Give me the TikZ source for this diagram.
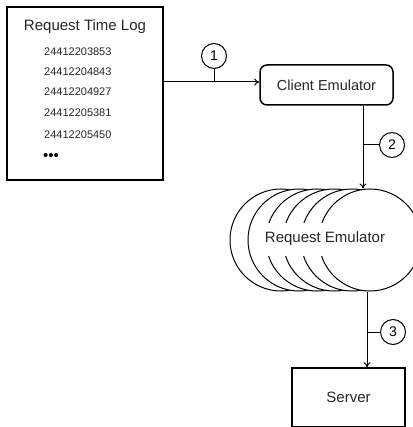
\documentclass[tikz,border=0pt]{standalone}
\usepackage{fontspec}
\setmainfont{Liberation Sans}
\usetikzlibrary{arrows.meta}
\newcommand{\fs}[1]{\fontsize{#1}{#1}\selectfont}
\begin{document}
\begin{tikzpicture}[x=1pt,y=-1pt,
  numtext/.style={anchor=west, inner sep=0pt, font=\fs{11}, text=black!85},
  lbl/.style={circle, draw, line width=1pt, minimum size=25pt, inner sep=0pt, font=\fs{14}},
  arr/.style={line width=1pt, -{To[length=5pt,width=7pt]}},
  tick/.style={line width=1pt},
  emu/.style={circle, draw, fill=white, line width=1pt, minimum size=102pt, inner sep=0pt},
  boxtext/.style={font=\fs{15}, text=black!85}]
\useasboundingbox (0,0) rectangle (412,427);

% request log
\node[draw, line width=2pt, minimum width=156pt, minimum height=173pt, inner sep=0pt] (log) at (85,93.5) {};
\node[boxtext] (title) at (85,27) {Request Time Log};
\node[numtext] (n1) at (44,52) {24412203853};
\node[numtext] (n2) at (44,72) {24412204843};
\node[numtext] (n3) at (44,92) {24412204927};
\node[numtext] (n4) at (44,113) {24412205381};
\node[numtext] (n5) at (44,135) {24412205450};
\node[anchor=west, inner sep=0pt, font=\fs{15}] (more) at (43,157) {•••};

% client emulator
\node[draw, rounded corners=7pt, line width=1.5pt, minimum width=133pt, minimum height=40pt,
      inner sep=0pt, boxtext, font=\fs{14.5}] (client) at (326.5,85) {Client Emulator};

% stacked request emulators, back to front
\foreach \i/\cx in {1/281, 2/299, 3/317, 4/334, 5/352, 6/370}
  \node[emu] (e\i) at (\cx,240) {};
\node[fill=white, inner xsep=3pt, inner ysep=0pt, minimum height=33pt, boxtext] (emutext) at (325,239) {Request Emulator};

% server
\node[draw, line width=1.5pt, minimum width=113pt, minimum height=59pt, inner sep=0pt, boxtext] (server) at (348.5,397.5) {Server};

% step labels
\node[lbl] (l1) at (214,56) {1};
\node[lbl] (l2) at (392,145) {2};
\node[lbl] (l3) at (393,332) {3};

% connector guides
\coordinate (y1) at (0,82);
\coordinate (x2) at (363,0);
\coordinate (x3) at (367,0);

\draw[arr] (log.east |- y1) -- (client.west |- y1);
\draw[tick] (l1.south) -- (l1.south |- y1);

\draw[arr] (client.south -| x2) -- (e6.north -| x2);
\draw[tick] (l2.west) -- (l2.west -| x2);

\draw[arr] (e6.south -| x3) -- (server.north -| x3);
\draw[tick] (l3.west) -- (l3.west -| x3);
\end{tikzpicture}
\end{document}
